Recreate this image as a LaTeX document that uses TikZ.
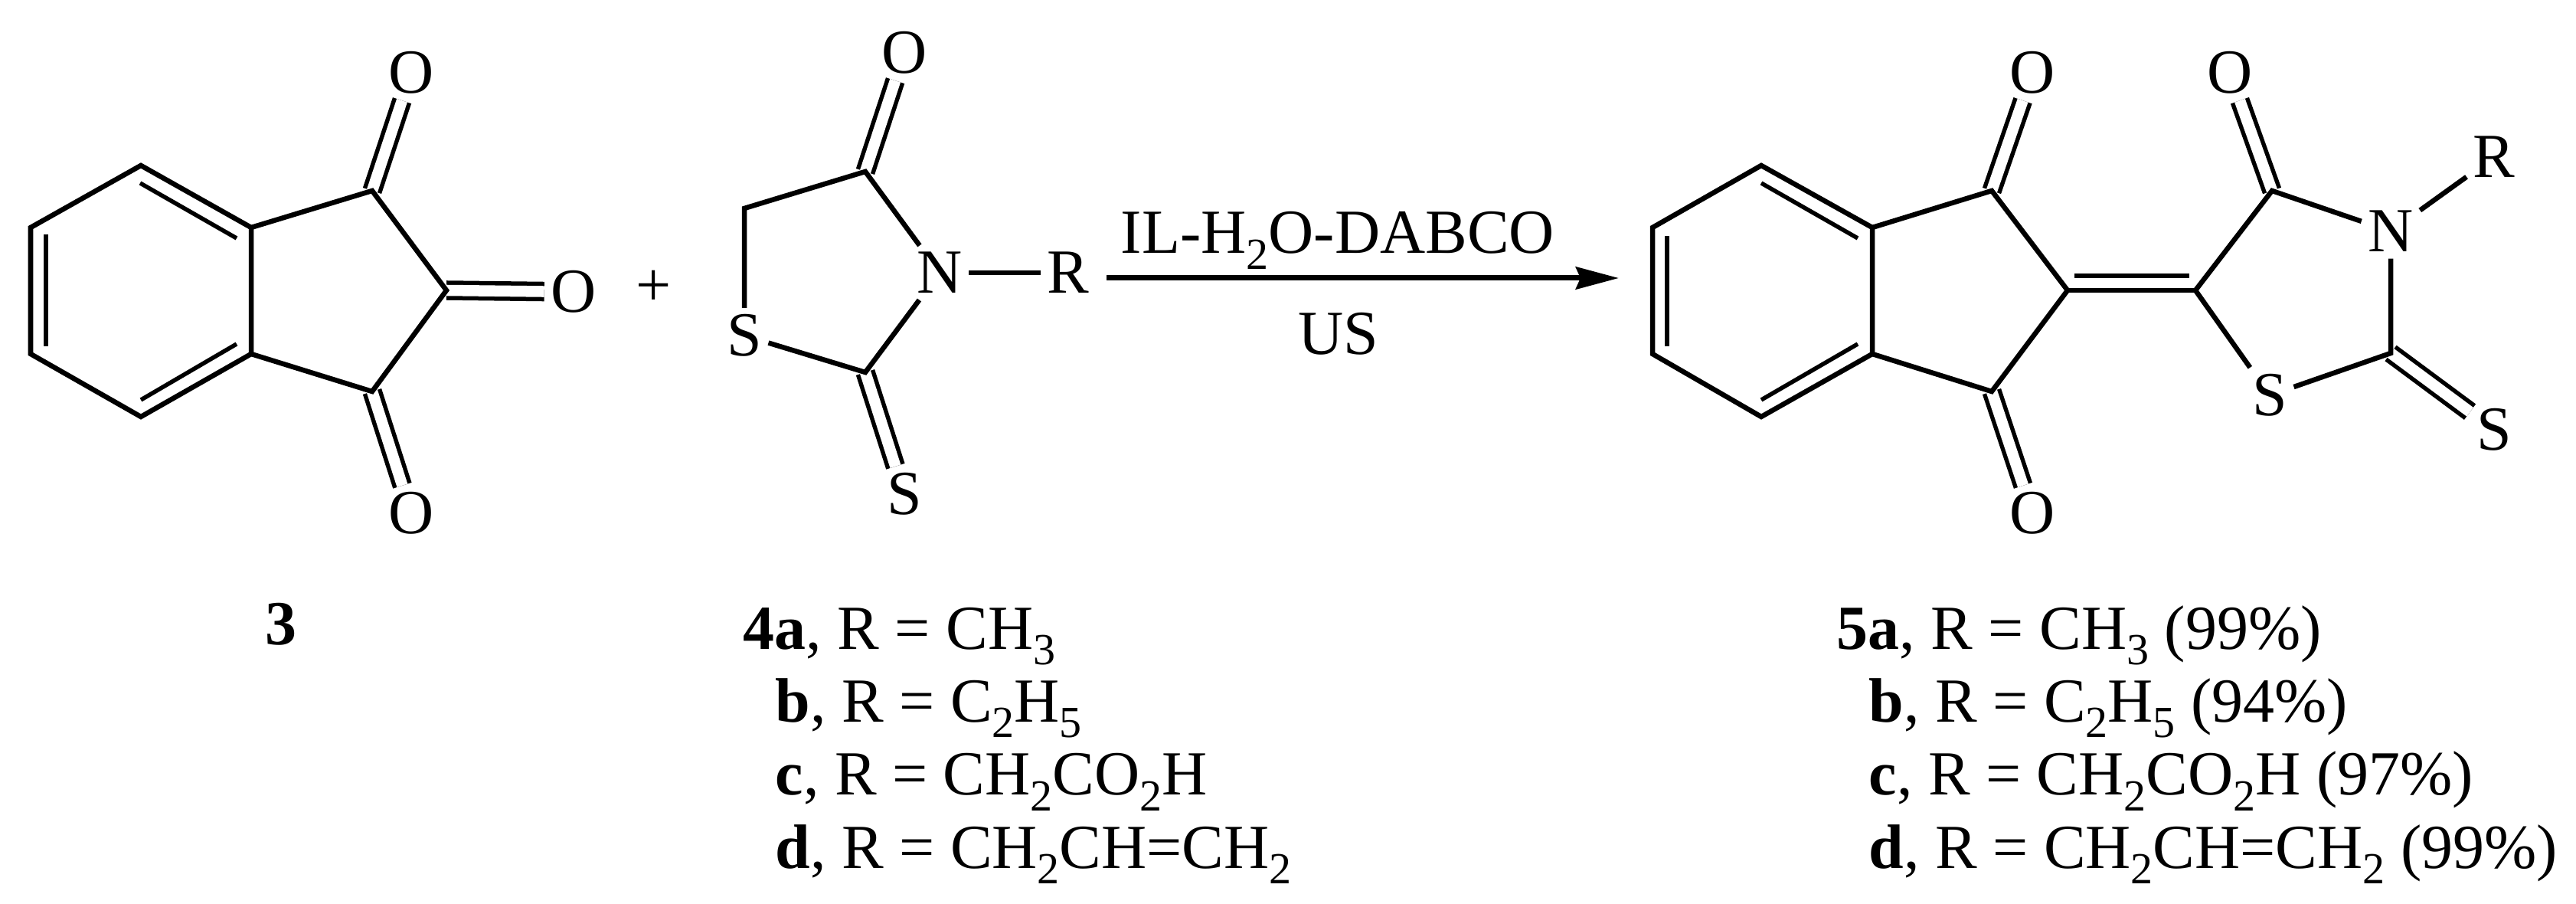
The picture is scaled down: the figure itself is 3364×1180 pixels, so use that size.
\documentclass[tikz,border=0pt]{standalone}
\usepackage{fontspec}
\setmainfont{Liberation Serif}
\usetikzlibrary{positioning, arrows.meta}
\newcommand{\subs}[1]{\raisebox{-0.25em}{\fontsize{16.5}{16.5}\selectfont #1}}

\begin{document}
\begin{tikzpicture}[
    x=0.01cm, y=-0.01cm,        % 1 unit = 1 pixel of the scheme
    >={Stealth[length=0.56cm, width=0.29cm, inset=0.06cm]},
    node distance=0.14cm,       % gap between the lines of a legend
    bond/.style={line width=0.065cm, line join=miter},
    inner/.style={line width=0.055cm},
    dbl/.style={line width=0.055cm, double, double distance=0.145cm},
    atom/.style={inner sep=0.08cm, font=\fontsize{23.3}{28}\selectfont},
    reagent/.style={inner sep=0pt, anchor=base, font=\fontsize{23.3}{28}\selectfont},
    legend/.style={inner sep=0pt, text height=0.6cm, text depth=0.2cm, font=\fontsize{23.3}{28}\selectfont}
  ]
  \useasboundingbox (0,0) rectangle (3364,1180);

  % --- COMPOUND 3 ---
  \coordinate (a1) at (184,216);
  \coordinate (a2) at (40,297);
  \coordinate (a3) at (40,462);
  \coordinate (a4) at (184,544);
  \coordinate (a5) at (328,462);
  \coordinate (a6) at (328,297);
  \coordinate (a7) at (486,249);
  \coordinate (a8) at (583,379);
  \coordinate (a9) at (486,511);
  \node[atom] (aO1) at (537,95) {O};
  \node[atom] (aO2) at (749,381) {O};
  \node[atom] (aO3) at (537,670) {O};

  % inner lines of the benzene ring
  \path (183,239) coordinate (ai1) (309,311) coordinate (ai2)
        (60,306) coordinate (ai3) (60,452) coordinate (ai4)
        (184,522) coordinate (ai5) (309,449) coordinate (ai6);

  \draw[dbl] (a7) -- (aO1);
  \draw[dbl] (a8) -- (aO2);
  \draw[dbl] (a9) -- (aO3);
  \draw[bond] (a1) -- (a2) -- (a3) -- (a4) -- (a5) -- (a6) -- cycle;
  \draw[bond] (a6) -- (a7) -- (a8) -- (a9) -- (a5);
  \draw[inner] (ai1) -- (ai2);
  \draw[inner] (ai3) -- (ai4);
  \draw[inner] (ai5) -- (ai6);

  \node[atom] (plus) at (854,376) {+};

  % --- COMPOUND 4 ---
  \coordinate (b1) at (972,272);
  \coordinate (b2) at (1130,224);
  \coordinate (b3) at (1130,486);
  \node[atom] (bN) at (1227,356) {N};
  \node[atom] (bR) at (1395,356) {R};
  \node[atom] (bS) at (972,438) {S};
  \node[atom] (bO) at (1181,69) {O};
  \node[atom] (bSx) at (1181,645) {S};

  \draw[dbl] (b2) -- (bO);
  \draw[dbl] (b3) -- (bSx);
  \draw[bond] (bS) -- (b1) -- (b2) -- (bN) -- (b3) -- (bS);
  \draw[bond] (bN) -- (bR);

  % --- ARROW ---
  \coordinate (arrowa) at (1445,363);
  \coordinate (arrowb) at (2114,363);
  \draw[->, line width=0.07cm] (arrowa) -- (arrowb);
  \node[reagent] (cond1) at (1747,331) {IL-H\subs{2}O-DABCO};
  \node[reagent] (cond2) at (1748,463) {US};

  % --- PRODUCT 5 ---
  \coordinate (c1) at (2300,216);
  \coordinate (c2) at (2158,297);
  \coordinate (c3) at (2158,462);
  \coordinate (c4) at (2300,544);
  \coordinate (c5) at (2445,462);
  \coordinate (c6) at (2445,297);
  \coordinate (c7) at (2601,249);
  \coordinate (c8) at (2700,379);
  \coordinate (c9) at (2601,511);
  \coordinate (c10) at (2867,379);
  \coordinate (c11) at (2967,249);
  \coordinate (c12) at (3122,461);
  \node[atom] (cO1) at (2654,95) {O};
  \node[atom] (cO2) at (2654,670) {O};
  \node[atom] (cO3) at (2912,95) {O};
  \node[atom] (cN) at (3122,302) {N};
  \node[atom] (cR) at (3257,205) {R};
  \node[atom] (cS) at (2964,516) {S};
  \node[atom] (cSx) at (3257,561) {S};

  % inner lines of the benzene ring and of the central C=C
  \path (2300,239) coordinate (ci1) (2426,311) coordinate (ci2)
        (2177,308) coordinate (ci3) (2177,452) coordinate (ci4)
        (2300,522) coordinate (ci5) (2426,449) coordinate (ci6)
        (2709,360) coordinate (ci7) (2859,360) coordinate (ci8);

  \draw[dbl] (c7) -- (cO1);
  \draw[dbl] (c9) -- (cO2);
  \draw[dbl] (c11) -- (cO3);
  \draw[dbl] (c12) -- (cSx);
  \draw[bond] (c1) -- (c2) -- (c3) -- (c4) -- (c5) -- (c6) -- cycle;
  \draw[bond] (c6) -- (c7) -- (c8) -- (c9) -- (c5);
  \draw[bond] (c8) -- (c10);
  \draw[bond] (c10) -- (c11) -- (cN) -- (c12) -- (cS) -- (c10);
  \draw[bond] (cN) -- (cR);
  \draw[inner] (ci1) -- (ci2);
  \draw[inner] (ci3) -- (ci4);
  \draw[inner] (ci5) -- (ci6);
  \draw[inner] (ci7) -- (ci8);

  % --- LEGENDS ---
  \node[legend, anchor=base] (n3) at (367,842) {\textbf{3}};

  \node[legend, anchor=base west] (l4a) at (970,847) {\textbf{4a}, R = CH\subs{3}};
  \node[legend, below=of l4a.south west, anchor=north west, xshift=0.42cm] (l4b) {\textbf{b}, R = C\subs{2}H\subs{5}};
  \node[legend, below=of l4b.south west, anchor=north west] (l4c) {\textbf{c}, R = CH\subs{2}CO\subs{2}H};
  \node[legend, below=of l4c.south west, anchor=north west] (l4d) {\textbf{d}, R = CH\subs{2}CH=CH\subs{2}};

  \node[legend, anchor=base west] (l5a) at (2398,847) {\textbf{5a}, R = CH\subs{3} (99\%)};
  \node[legend, below=of l5a.south west, anchor=north west, xshift=0.42cm] (l5b) {\textbf{b}, R = C\subs{2}H\subs{5} (94\%)};
  \node[legend, below=of l5b.south west, anchor=north west] (l5c) {\textbf{c}, R = CH\subs{2}CO\subs{2}H (97\%)};
  \node[legend, below=of l5c.south west, anchor=north west] (l5d) {\textbf{d}, R = CH\subs{2}CH=CH\subs{2} (99\%)};

\end{tikzpicture}
\end{document}
